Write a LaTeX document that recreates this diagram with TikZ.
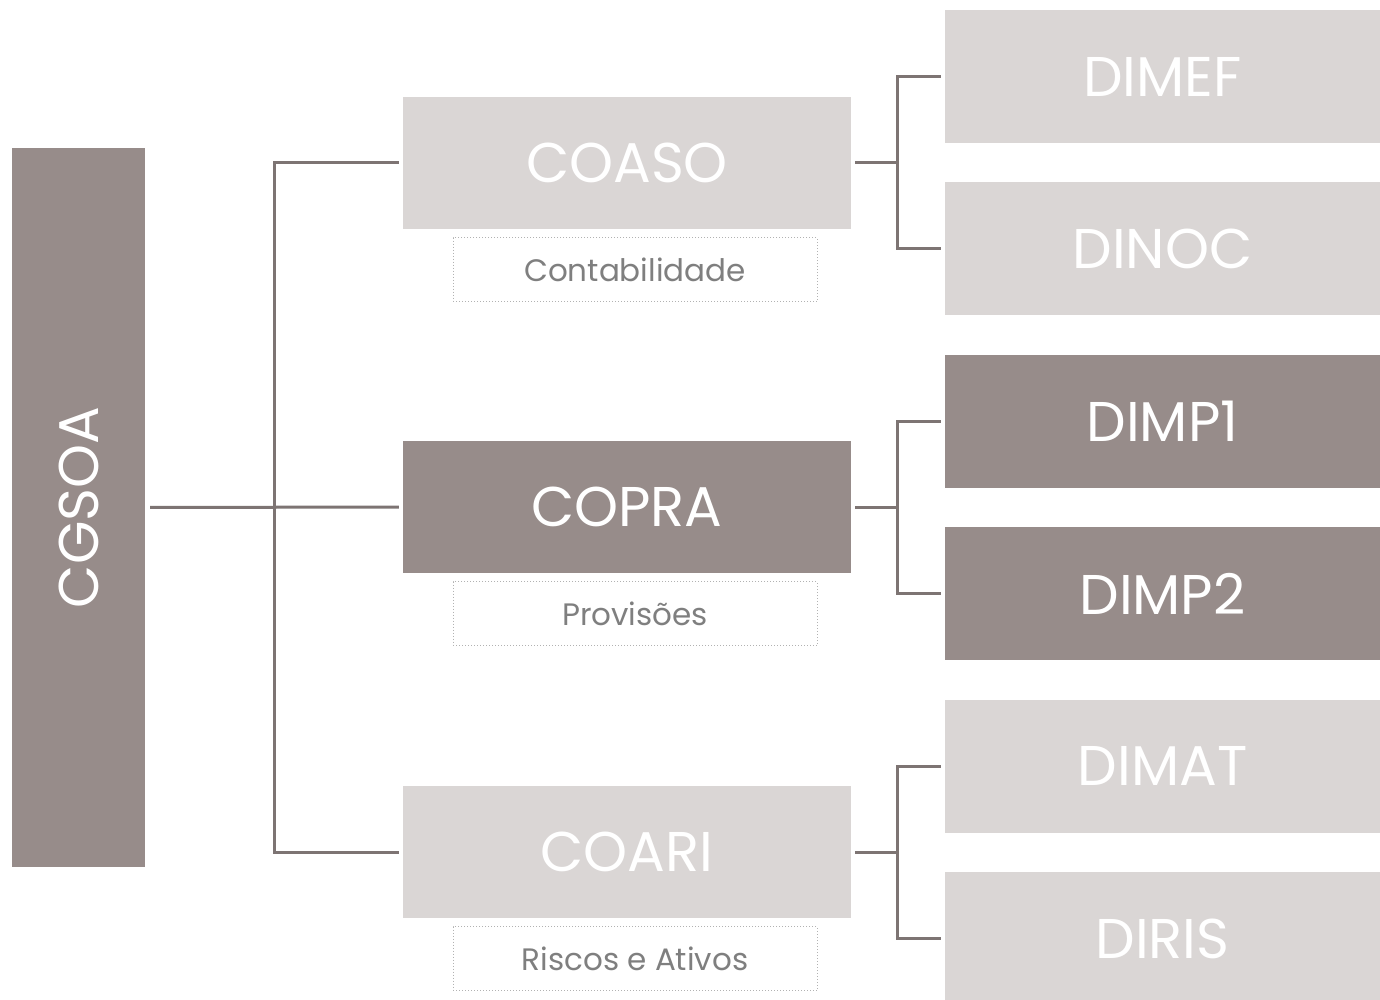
\documentclass[tikz,border=0pt]{standalone}
\usepackage{fontspec}
\setmainfont{Poppins}
\usetikzlibrary{positioning}
\definecolor{taupe}{HTML}{978C8A}
\definecolor{mist}{HTML}{DAD6D5}
\definecolor{wire}{HTML}{7D7473}
\definecolor{notegray}{HTML}{7F7F7F}

\begin{document}
\begin{tikzpicture}[x=1pt,y=-1pt,
			dark/.style={rectangle, fill=taupe, text=white, inner sep=0, font=\fontsize{56}{60}\selectfont},
			light/.style={dark, fill=mist},
			unit/.style={minimum width=448pt, minimum height=132pt},
			sub/.style={minimum width=435pt, minimum height=133pt},
			tag/.style={rectangle, draw=gray!60, dotted, line width=1pt, text=notegray, inner sep=0,
				minimum width=364pt, minimum height=64pt, font=\fontsize{31}{34}\selectfont},
			link/.style={line width=3pt, draw=wire}]

			\useasboundingbox (0,0) rectangle (1380,1000);

			% left column
			\node[dark, minimum width=133pt, minimum height=719pt] (cgsoa) at (78.5,507.5) {\rotatebox{90}{CGSOA}};

			% middle column
			\node[light, unit] (coaso) at (627,163) {COASO};
			\node[dark, unit] (copra) at (627,507) {COPRA};
			\node[light, unit] (coari) at (627,852) {COARI};
			\node[tag, below=8pt of coaso, xshift=8pt] (contab) {Contabilidade};
			\node[tag, below=8pt of copra, xshift=8pt] (prov) {Provisões};
			\node[tag, below=8pt of coari, xshift=8pt] (riscos) {Riscos e Ativos};

			% right column
			\node[light, sub] (dimef) at (1162.5,76.5) {DIMEF};
			\node[light, sub, below=39pt of dimef] (dinoc) {DINOC};
			\node[dark, sub, below=39pt of dinoc] (dimp1) {DIMP1};
			\node[dark, sub, below=39pt of dimp1] (dimp2) {DIMP2};
			\node[light, sub, below=39pt of dimp2] (dimat) {DIMAT};
			\node[light, sub, below=39pt of dimat] (diris) {DIRIS};

			% connectors
			\coordinate (hub) at (274,507);
			\coordinate (forka) at (897,163);
			\coordinate (forkb) at (897,507);
			\coordinate (forkc) at (897,852);

			\draw[link, shorten <=5pt, shorten >=4pt] (cgsoa.east) -- (copra.west);
			\draw[link, shorten <=4pt, shorten >=4pt] (coaso.west) -| (hub) |- (coari.west);

			\draw[link, shorten <=4pt] (coaso.east) -- (forka);
			\draw[link, shorten <=4pt, shorten >=4pt] (dimef.west) -| (forka) |- (dinoc.west);
			\draw[link, shorten <=4pt] (copra.east) -- (forkb);
			\draw[link, shorten <=4pt, shorten >=4pt] (dimp1.west) -| (forkb) |- (dimp2.west);
			\draw[link, shorten <=4pt] (coari.east) -- (forkc);
			\draw[link, shorten <=4pt, shorten >=4pt] (dimat.west) -| (forkc) |- (diris.west);
		\end{tikzpicture}
\end{document}
